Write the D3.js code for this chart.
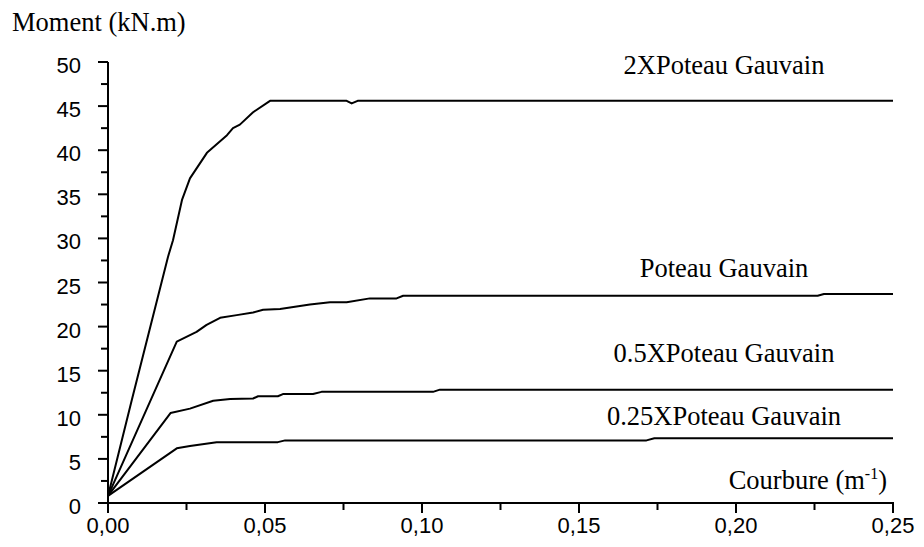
<!DOCTYPE html>
<html>
<head>
<meta charset="utf-8">
<script src="https://cdn.jsdelivr.net/npm/d3@7"></script>
<style>
  body { margin: 0; background: #fff; }
  svg { display: block; }
  .tick-label { font-family: "Liberation Sans", Arial, sans-serif; font-size: 22px; fill: #000; }
  .serif { font-family: "Liberation Serif", "Times New Roman", serif; font-size: 26.5px; fill: #000; }
</style>
</head>
<body>
<svg id="chart" width="924" height="547"></svg>
<script>
// courbure (m-1) / moment (kN.m)
var x2 = [0, 0.0076, 0.0191, 0.0207, 0.0236, 0.0261, 0.0315, 0.0379, 0.0398, 0.042, 0.0462, 0.0516, 0.0760, 0.0776, 0.0795, 0.25]
var m2 = [0.8, 11.7, 27.9, 29.8, 34.4, 36.8, 39.7, 41.7, 42.5, 42.9, 44.3, 45.6, 45.6, 45.3, 45.6, 45.6]

var x1 = [0, 0.0219, 0.0282, 0.0314, 0.0357, 0.041, 0.0462, 0.0494, 0.0548, 0.0643, 0.0707, 0.076, 0.0834, 0.0919, 0.094, 0.226, 0.228, 0.25]
var m1 = [0.8, 18.3, 19.4, 20.2, 21.0, 21.3, 21.6, 21.9, 22.0, 22.5, 22.75, 22.75, 23.2, 23.2, 23.5, 23.5, 23.7, 23.7]

var x05 = [0, 0.0199, 0.0261, 0.0335, 0.0389, 0.0462, 0.0478, 0.0541, 0.0557, 0.0653, 0.068, 0.1035, 0.1057, 0.25]
var m05 = [0.8, 10.2, 10.7, 11.6, 11.8, 11.85, 12.1, 12.1, 12.35, 12.35, 12.6, 12.6, 12.85, 12.85]

var x025 = [0, 0.0219, 0.0261, 0.0346, 0.0541, 0.0564, 0.1715, 0.1740, 0.25]
var m025 = [0.8, 6.2, 6.46, 6.9, 6.9, 7.1, 7.1, 7.35, 7.35]

var seriesNames = ["2XPoteau Gauvain", "Poteau Gauvain", "0.5XPoteau Gauvain", "0.25XPoteau Gauvain"]
var labelMoments = [48.6, 25.6, 16.0, 8.85]

var xTicks = [0, 0.05, 0.10, 0.15, 0.20, 0.25]
var yTicks = [0, 5, 10, 15, 20, 25, 30, 35, 40, 45, 50]

var svg = d3.select("#chart")
var padL = 108, padR = 893, padT = 62, padB = 503

var x = d3.scaleLinear().domain([0, 0.25]).range([padL, padR])
var y = d3.scaleLinear().domain([0, 50]).range([padB, padT])

//axes lines
svg.append("line").attr("x1", padL).attr("x2", padL).attr("y1", padT).attr("y2", padB)
  .attr("stroke", "#000").attr("stroke-width", 2)
svg.append("line").attr("x1", padL - 10).attr("x2", padR + 1).attr("y1", padB).attr("y2", padB)
  .attr("stroke", "#000").attr("stroke-width", 2)

//y ticks, major + minor
var yMinor = yTicks.slice(0, -1).map(function(d) { return d + 2.5 })
svg.selectAll(".ymaj").data(yTicks).enter().append("line")
  .attr("x1", padL - 10).attr("x2", padL).attr("y1", d => y(d)).attr("y2", d => y(d))
  .attr("stroke", "#000").attr("stroke-width", 2)
svg.selectAll(".ymin").data(yMinor).enter().append("line")
  .attr("x1", padL - 7).attr("x2", padL).attr("y1", d => y(d)).attr("y2", d => y(d))
  .attr("stroke", "#000").attr("stroke-width", 2)
svg.selectAll(".ylab").data(yTicks).enter().append("text")
  .attr("class", "tick-label")
  .attr("x", 81).attr("y", d => y(d) + 11)
  .attr("text-anchor", "end")
  .text(d => d)

//x ticks
var xMinor = xTicks.slice(0, -1).map(function(d) { return d + 0.025 })
svg.selectAll(".xmaj").data(xTicks).enter().append("line")
  .attr("x1", d => x(d)).attr("x2", d => x(d)).attr("y1", padB).attr("y2", padB + 10)
  .attr("stroke", "#000").attr("stroke-width", 2)
svg.selectAll(".xmin").data(xMinor).enter().append("line")
  .attr("x1", d => x(d)).attr("x2", d => x(d)).attr("y1", padB).attr("y2", padB + 7)
  .attr("stroke", "#000").attr("stroke-width", 2)
svg.selectAll(".xlab").data(xTicks).enter().append("text")
  .attr("class", "tick-label")
  .attr("x", d => x(d)).attr("y", 533)
  .attr("text-anchor", "middle")
  .text(d => d3.format(".2f")(d).replace(".", ","))

//curves
var line = d3.line().x(d => x(d[0])).y(d => y(d[1]))
var allX = [x2, x1, x05, x025]
var allM = [m2, m1, m05, m025]
allX.forEach(function(xs, i) {
  var pts = xs.map(function(v, j) { return [v, allM[i][j]] })
  svg.append("path").datum(pts)
    .attr("d", line)
    .attr("fill", "none")
    .attr("stroke", "#000")
    .attr("stroke-width", 2)
    .attr("stroke-linejoin", "round")
})

//series labels
svg.selectAll(".slab").data(seriesNames).enter().append("text")
  .attr("class", "serif")
  .attr("x", 724).attr("y", (d, i) => y(labelMoments[i]))
  .attr("text-anchor", "middle")
  .text(d => d)

//axis titles
svg.append("text").attr("class", "serif").attr("x", 12).attr("y", 31).text("Moment (kN.m)")
var ct = svg.append("text").attr("class", "serif").attr("x", 887).attr("y", 489).attr("text-anchor", "end")
ct.append("tspan").text("Courbure (m")
ct.append("tspan").attr("font-size", "16px").attr("dy", -10).text("-1")
ct.append("tspan").attr("dy", 10).text(")")
</script>
</body>
</html>
